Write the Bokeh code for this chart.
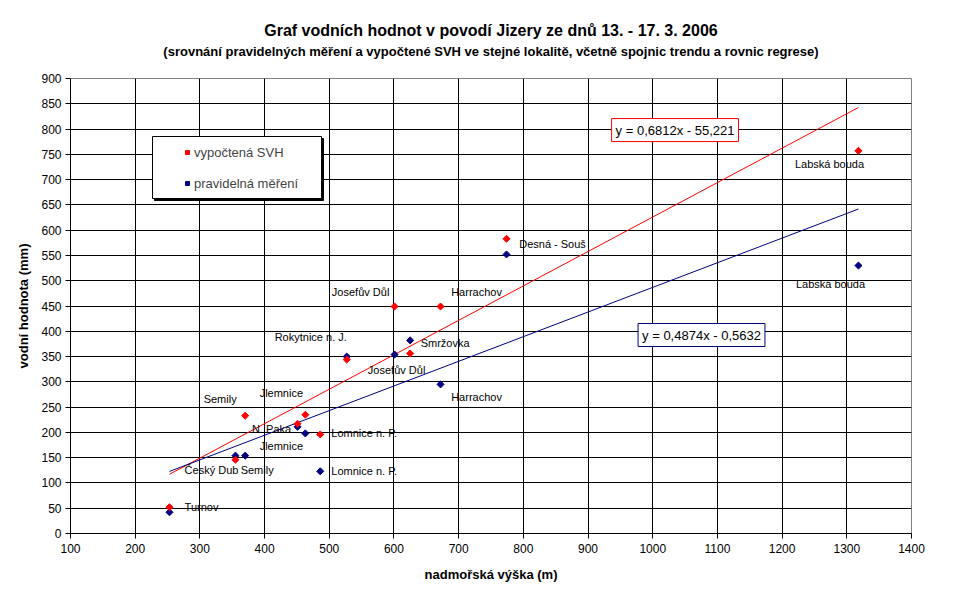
from bokeh.plotting import figure
from bokeh.models import (Range1d, FixedTicker, Legend, LegendItem, ColumnDataSource, Label,
                          BoxAnnotation, LinearAxis)
from bokeh.embed import file_html
from bokeh.resources import INLINE
from bokeh.core.properties import value
import numpy as np

# ---------------- data ----------------
stations = ["Turnov", "Český Dub", "Semily", "N. Paka", "Jilemnice", "Lomnice n. P.",
            "Rokytnice n. J.", "Josefův Důl", "Smržovka", "Harrachov", "Desná - Souš", "Labská bouda"]
altitude = [253, 355, 370, 451, 463, 486, 527, 601, 625, 672, 774, 1318]
svh_calc = [52, 146, 233, 217, 235, 196, 344, 449, 356, 449, 583, 757]
svh_meas = [42, 154, 154, 211, 198, 123, 350, 354, 382, 295, 552, 530]

labels_calc = ["Turnov", "", "Semily", "N. Paka", "Jlemnice", "Lomnice n. P.",
               "", "Josefův Důl", "", "Harrachov", "Desná - Souš", "Labská bouda"]
labels_meas = ["", "Český Dub", "Semily", "", "Jlemnice", "Lomnice n. P.",
               "Rokytnice n. J.", "Josefův Důl", "Smržovka", "Harrachov", "", "Labská bouda"]

trend_slope = [0.6812, 0.4874]
trend_intercept = [-55.221, -0.5632]
trend_text = ["y = 0,6812x - 55,221", "y = 0,4874x - 0,5632"]

x_ticks = list(range(100, 1401, 100))
y_ticks = list(range(0, 901, 50))

title_text = "Graf vodních hodnot v povodí Jizery ze dnů 13. - 17. 3. 2006"
subtitle_text = "(srovnání pravidelných měření a vypočtené SVH ve stejné lokalitě, včetně spojnic trendu a rovnic regrese)"
legend_labels = ["vypočtená SVH", "pravidelná měření"]

# label pixel offsets (style: screen px, y down)
calc_dx = [32, 0, -25, -26, -24, 44, 0, -34, 0, 36, 46, -29]
calc_dy = [0, 0, -17, 5, -22, -1, 0, -15, 0, -15, 5, 13]
meas_dx = [0, -24, 12, 0, -24, 44, -36, 2, 35, 36, 0, -28]
meas_dy = [0, 14, 14, 0, 13, 0, -20, 15, 3, 13, 0, 18]

RED = "#FF0000"
NAVY = "#000080"
FONT = "Liberation Sans"

p = figure(width=954, height=588, output_backend="svg", toolbar_location=None, title=None,
           x_range=Range1d(100, 1400), y_range=Range1d(0, 900),
           min_border_left=70, min_border_right=43, min_border_top=78, min_border_bottom=55,
           background_fill_color="white", border_fill_color="white")

p.outline_line_color = "#808080"
p.xaxis.ticker = FixedTicker(ticks=x_ticks)
p.yaxis.ticker = FixedTicker(ticks=y_ticks)
p.xgrid.ticker = FixedTicker(ticks=x_ticks[1:-1])
p.ygrid.ticker = FixedTicker(ticks=y_ticks[1:-1])
for g in (p.xgrid, p.ygrid):
    g.grid_line_color = "black"
    g.grid_line_width = 1

for ax in (p.xaxis, p.yaxis):
    ax.axis_line_color = "black"
    ax.major_tick_line_color = "black"
    ax.major_tick_out = 5
    ax.major_tick_in = 0
    ax.minor_tick_line_color = None
    ax.major_label_text_font = FONT
    ax.major_label_text_font_size = "12px"
    ax.major_label_text_color = "black"
    ax.axis_label_text_font = FONT
    ax.axis_label_text_font_size = "13px"
    ax.axis_label_text_font_style = "bold"
    ax.axis_label_text_color = "black"

p.xaxis.axis_label = "nadmořská výška (m)"
p.yaxis.axis_label = "vodní hodnota (mm)"
p.xaxis.major_label_standoff = 5
p.yaxis.major_label_standoff = 4
p.xaxis.axis_label_standoff = 11
p.yaxis.axis_label_standoff = 7


# titles as labels of tick-less axes above the plot (first added = closest to the plot)
def title_axis(text, size, standoff):
    ax = LinearAxis(ticker=FixedTicker(ticks=[]), axis_label=text,
                    axis_label_text_font=FONT, axis_label_text_font_size=size,
                    axis_label_text_font_style="bold", axis_label_text_color="black",
                    axis_label_standoff=standoff, axis_line_color=None,
                    major_tick_line_color=None, minor_tick_line_color=None,
                    major_tick_out=0, major_tick_in=0, minor_tick_out=0, minor_tick_in=0,
                    major_label_standoff=0, major_label_text_font_size="0px")
    p.add_layout(ax, "above")


title_axis(subtitle_text, "13px", 20)
title_axis(title_text, "16px", 2)

# trend lines
xs_line = [min(altitude), max(altitude)]
colors = [RED, NAVY]
for slope, icpt, col in zip(trend_slope, trend_intercept, colors):
    ys_line = [slope * x + icpt for x in xs_line]
    p.line(xs_line, ys_line, line_color=col, line_width=1)

src_calc = ColumnDataSource(dict(x=altitude, y=svh_calc, label=labels_calc, dx=calc_dx, dy=calc_dy))
src_meas = ColumnDataSource(dict(x=altitude, y=svh_meas, label=labels_meas, dx=meas_dx, dy=meas_dy))

r_meas = p.scatter("x", "y", source=src_meas, marker="square", angle=np.pi / 4, size=5,
                   fill_color=NAVY, line_color=NAVY)
r_calc = p.scatter("x", "y", source=src_calc, marker="square", angle=np.pi / 4, size=5,
                   fill_color=RED, line_color=RED)

for src in (src_calc, src_meas):
    p.text("x", "y", text="label", source=src, x_offset="dx", y_offset="dy",
           text_align="center", text_baseline="middle", text_font=value(FONT),
           text_font_size="11px", text_color="black")

# equation boxes
eq_pos = [(1034.5, 798), (1075.4, 392.6)]
for (ex, ey), txt, col in zip(eq_pos, trend_text, colors):
    p.add_layout(Label(x=ex, y=ey, text=txt, text_align="center", text_baseline="middle",
                       text_font=FONT, text_font_size="13px", text_color="black",
                       border_line_color=col, border_line_width=1,
                       background_fill_color="white", padding=4))

# legend box with shadow (data-unit placement of the frame)
px_x = 1300 / 841.0
px_y = 900 / 455.0
box_l, box_r = 100 + 82 * px_x, 100 + 251 * px_x
box_t, box_b = 900 - 58 * px_y, 900 - 120 * px_y
p.add_layout(BoxAnnotation(left=box_l + 2 * px_x, right=box_r + 2 * px_x,
                           top=box_t - 2 * px_y, bottom=box_b - 2 * px_y,
                           fill_color="black", fill_alpha=1, line_color="black", line_alpha=1))
p.add_layout(BoxAnnotation(left=box_l, right=box_r, top=box_t, bottom=box_b,
                           fill_color="white", fill_alpha=1, line_color="black", line_alpha=1,
                           line_width=1))

legend = Legend(items=[LegendItem(label=legend_labels[0], renderers=[r_calc]),
                       LegendItem(label=legend_labels[1], renderers=[r_meas])],
                location=(112, 340), padding=0, spacing=11, glyph_width=10, glyph_height=20,
                label_height=20, label_standoff=2,
                label_text_font=FONT, label_text_font_size="13px",
                border_line_color=None, background_fill_alpha=0.0, margin=0)
p.add_layout(legend)

open("out.html", "w").write(file_html(p, INLINE))
